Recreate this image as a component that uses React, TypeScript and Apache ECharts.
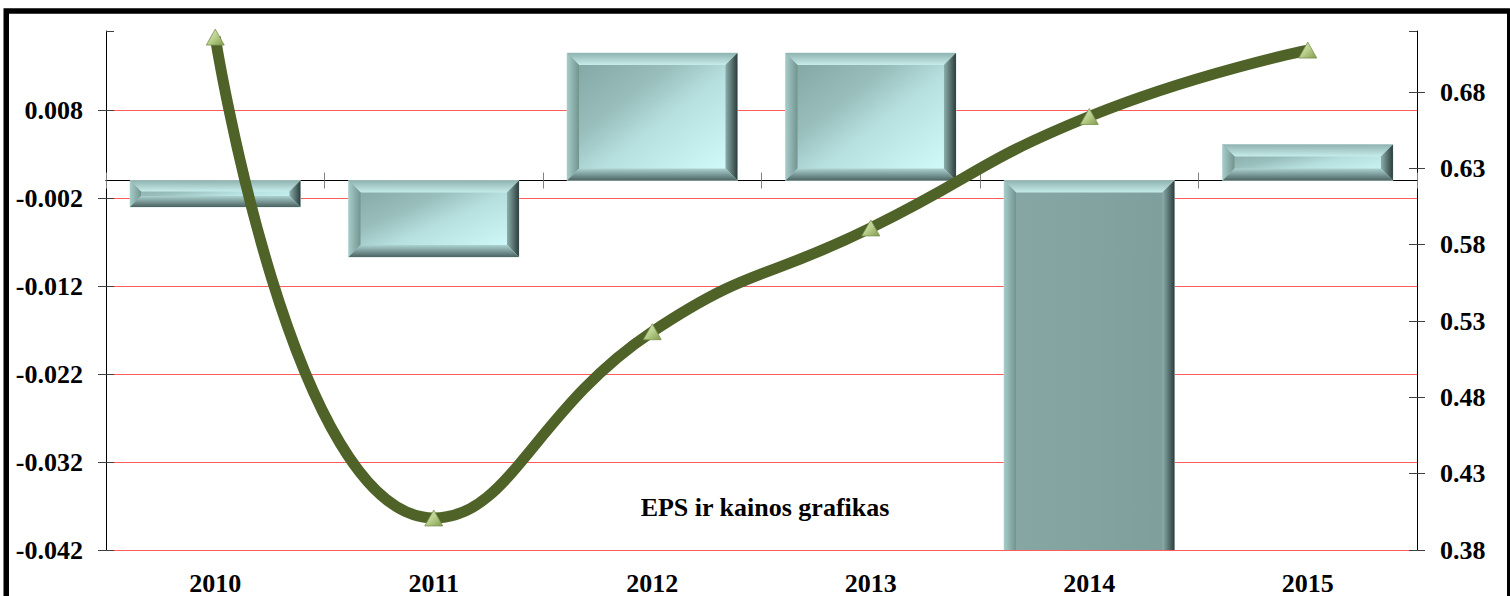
import React, { useEffect, useRef } from 'react';
import * as echarts from 'echarts';

const years: string[] = ['2010', '2011', '2012', '2013', '2014', '2015'];
const epsValues: number[] = [-0.003, -0.0087, 0.0145, 0.0145, -0.05, 0.0041];
const priceValues: number[] = [0.716, 0.401, 0.523, 0.591, 0.664, 0.7075];
const epsAxisRange: number[] = [-0.042, 0.017, 0.01];
const priceAxisRange: number[] = [0.38, 0.72, 0.05];
const chartTitle = 'EPS ir kainos grafikas';

const FONT = "'Liberation Serif', 'Times New Roman', serif";

const lg = (x: number, y: number, x2: number, y2: number, stops: [number, string][]) =>
  new echarts.graphic.LinearGradient(x, y, x2, y2, stops.map(([offset, color]) => ({ offset, color })));

export default function App() {
  const ref = useRef<HTMLDivElement>(null);

  useEffect(() => {
    if (!ref.current) return;
    const chart = echarts.init(ref.current, null, { renderer: 'svg' });

    const labelStyle = { fontFamily: FONT, fontWeight: 'bold' as const, fontSize: 26, color: '#000' };
    const barData = epsValues.map((v, i) => [i, v]);

    const hiddenCatAxis = (inside: boolean) => ({
      type: 'category', data: years, position: 'bottom',
      axisLine: { show: true, onZero: true, onZeroAxisIndex: 0, lineStyle: { color: '#000', width: 1 } },
      axisTick: { show: true, length: 8, inside, lineStyle: { color: '#808080', width: 1 } },
      axisLabel: { show: false },
      splitLine: { show: false },
    });

    const innerValueAxis = (position: string, range: number[]) => ({
      type: 'value', position,
      min: range[0], max: range[1], interval: range[2],
      axisLine: { show: false, onZero: false },
      axisTick: { show: true, inside: true, length: 8, lineStyle: { color: '#404040' } },
      axisLabel: { show: false },
      splitLine: { show: false },
    });

    const option: any = {
      animation: false,
      backgroundColor: '#fff',
      grid: { left: 106, right: 93, top: 31, bottom: 44, containLabel: false },
      xAxis: [
        {
          type: 'category', data: years, position: 'bottom',
          axisLine: { show: false, onZero: false },
          axisTick: { show: false },
          axisLabel: { ...labelStyle, margin: 20 },
          splitLine: { show: false },
        },
        hiddenCatAxis(false),
        hiddenCatAxis(true),
      ],
      yAxis: [
        {
          type: 'value', position: 'left',
          min: epsAxisRange[0], max: epsAxisRange[1], interval: epsAxisRange[2],
          axisLine: { show: true, onZero: false, lineStyle: { color: '#000', width: 1 } },
          axisTick: { show: true, length: 8, lineStyle: { color: '#404040' } },
          axisLabel: { ...labelStyle, margin: 23, showMaxLabel: false, formatter: (v: number) => v.toFixed(3) },
          splitLine: { show: true, showMaxLine: false, lineStyle: { color: '#ff5c5c', width: 1 } },
        },
        {
          type: 'value', position: 'right',
          min: priceAxisRange[0], max: priceAxisRange[1], interval: priceAxisRange[2],
          axisLine: { show: true, onZero: false, lineStyle: { color: '#000', width: 1 } },
          axisTick: { show: true, length: 8, lineStyle: { color: '#404040' } },
          axisLabel: { ...labelStyle, margin: 23, showMaxLabel: false, formatter: (v: number) => v.toFixed(2) },
          splitLine: { show: false },
        },
        innerValueAxis('left', epsAxisRange),
        innerValueAxis('right', priceAxisRange),
      ],
      series: [
        {
          type: 'custom',
          name: 'EPS',
          xAxisIndex: 0,
          yAxisIndex: 0,
          clip: true,
          z: 2,
          data: barData,
          encode: { x: 0, y: 1 },
          renderItem: (params: any, api: any) => {
            const xi = api.value(0);
            const v = api.value(1);
            const p0 = api.coord([xi, 0]);
            const p1 = api.coord([xi, v]);
            const bandW = api.size([1, 0])[0];
            const w = bandW * 0.78;
            const x = p0[0] - w / 2;
            const y = Math.min(p0[1], p1[1]);
            const h = Math.abs(p1[1] - p0[1]);
            const b = Math.min(12, h / 2.4, w / 4);
            const tall = h > 250;
            const face = tall
              ? lg(0, 0, 1, 0, [[0, '#8db0ad'], [0.08, '#85a6a3'], [0.5, '#83a3a0'], [1, '#7e9e9b']])
              : lg(0, 0, 1, 1, [[0, '#7fa29f'], [0.35, '#98bdbb'], [0.55, '#b6e0df'], [1, '#d6ffff']]);
            return {
              type: 'group',
              children: [
                { type: 'rect', shape: { x, y, width: w, height: h }, style: { fill: face, stroke: '#c8dcdc', lineWidth: 0.8 } },
                {
                  type: 'polygon',
                  shape: { points: [[x, y], [x + w, y], [x + w - b, y + b], [x + b, y + b]] },
                  style: { fill: lg(0, 0, 0, 1, [[0, '#8fb3b0'], [1, '#c6eceb']]) },
                },
                {
                  type: 'polygon',
                  shape: { points: [[x, y], [x + b, y + b], [x + b, y + h - b], [x, y + h]] },
                  style: { fill: lg(0, 0, 1, 0, [[0, '#a6ccca'], [1, '#72948f']]) },
                },
                {
                  type: 'polygon',
                  shape: { points: [[x + w, y], [x + w - b, y + b], [x + w - b, y + h - b], [x + w, y + h]] },
                  style: { fill: lg(0, 0, 1, 0, [[0, '#8cafac'], [1, '#2b3d3c']]) },
                },
                {
                  type: 'polygon',
                  shape: { points: [[x, y + h], [x + w, y + h], [x + w - b, y + h - b], [x + b, y + h - b]] },
                  style: { fill: lg(0, 0, 0, 1, [[0, '#acd2d0'], [1, '#4b6462']]) },
                },
              ],
            };
          },
        },
        {
          type: 'line',
          name: 'Kaina',
          xAxisIndex: 0,
          yAxisIndex: 1,
          data: priceValues,
          smooth: 0.5,
          z: 5,
          lineStyle: { color: '#4f6228', width: 11 },
          symbol: 'triangle',
          symbolSize: [18, 16],
          itemStyle: {
            color: lg(0, 0, 1, 1, [[0, '#e0ebc8'], [0.5, '#b9cf8c'], [1, '#7f9a4a']]),
            borderColor: '#7a9450',
            borderWidth: 0.8,
          },
        },
      ],
      graphic: [
        {
          type: 'text',
          x: 765,
          y: 507,
          z: 10,
          style: {
            text: chartTitle,
            fontFamily: FONT,
            fontWeight: 'bold',
            fontSize: 26,
            fill: '#000',
            textAlign: 'center',
            textVerticalAlign: 'middle',
          },
        },
        {
          type: 'rect',
          z: 20,
          shape: { x: 6.25, y: 11, width: 1503.5, height: 700 },
          style: { fill: 'none', stroke: '#000', lineWidth: 5.5 },
        },
      ],
    };

    chart.setOption(option);
    return () => chart.dispose();
  }, []);

  return (
    <div
      ref={ref}
      style={{ position: 'absolute', left: 0, top: 0, width: 1510, height: 596, background: '#fff' }}
    />
  );
}
